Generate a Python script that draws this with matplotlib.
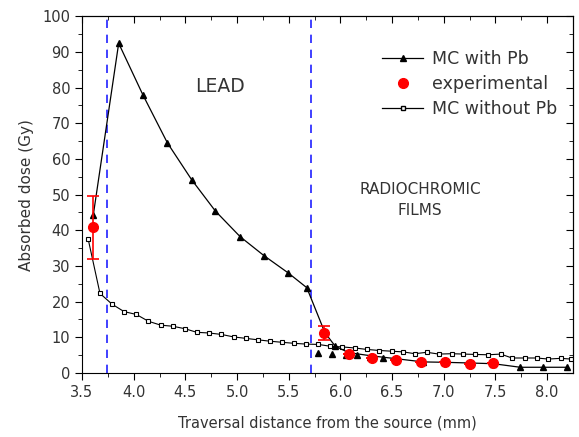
import numpy as np
import matplotlib.pyplot as plt
from matplotlib.lines import Line2D

# MC simulation with lead shield
pb_x = [3.61, 3.855, 4.09, 4.326, 4.56, 4.79, 5.03, 5.26, 5.497, 5.675,
        5.85, 5.95, 6.08, 6.30, 6.54, 6.80, 7.00, 7.25, 7.48, 7.74, 7.96, 8.19]
pb_y = [44.4, 92.4, 77.9, 64.5, 54.2, 45.4, 38.2, 32.9, 28.0, 23.9,
        11.3, 7.5, 5.7, 4.8, 4.0, 3.1, 3.0, 2.8, 2.6, 1.6, 1.6, 1.6]

# extra MC points in the film region (markers only)
pb_film_x = [5.78, 5.92, 6.05, 6.16, 6.29, 6.41, 6.54]
pb_film_y = [5.6, 5.2, 4.9, 4.9, 4.5, 4.2, 4.0]

# measured dose
exp_x = [3.61, 5.846, 6.08, 6.31, 6.537, 6.78, 7.01, 7.25, 7.48]
exp_y = [40.8, 11.3, 5.35, 4.2, 3.75, 3.1, 3.0, 2.5, 2.7]
exp_err = [8.8, 2.0, 0, 0, 0, 0, 0, 0, 0]

# MC simulation without lead
nopb_x = [3.56, 3.674, 3.79, 3.907, 4.026, 4.142, 4.262, 4.378, 4.497, 4.61,
          4.732, 4.849, 4.968, 5.085, 5.2, 5.32, 5.436, 5.555, 5.668, 5.787,
          5.90, 6.02, 6.14, 6.256, 6.378, 6.498, 6.61, 6.72, 6.837, 6.95,
          7.08, 7.19, 7.30, 7.43, 7.55, 7.66, 7.79, 7.90, 8.01, 8.13, 8.23]
nopb_y = [37.5, 22.3, 19.3, 17.2, 16.4, 14.5, 13.4, 13.1, 12.4, 11.4,
          11.2, 10.8, 10.1, 9.7, 9.3, 8.9, 8.6, 8.3, 8.1, 8.0,
          7.5, 7.3, 7.0, 6.6, 6.3, 6.1, 5.9, 5.4, 5.8, 5.3,
          5.4, 5.3, 5.2, 5.1, 5.3, 4.2, 4.2, 4.2, 3.9, 4.1, 3.9]

lead_edges = [3.74, 5.72]

txt = '#333333'
fig = plt.figure(figsize=(5.79, 4.37), dpi=100)
ax = fig.add_axes([0.1416, 0.1465, 0.848, 0.8165])

for xe in lead_edges:
    ax.axvline(xe, color='#2020ff', ls=(0, (5, 4)), lw=1.2, zorder=1)

ax.plot(nopb_x, nopb_y, color='black', lw=0.8, marker='s', ms=3.5,
        mfc='white', mec='black', mew=0.8, zorder=2)
ax.plot(pb_x, pb_y, color='black', lw=0.9, marker='^', ms=5,
        mfc='black', mec='black', zorder=3)
ax.plot(pb_film_x, pb_film_y, ls='none', marker='^', ms=5, color='black', zorder=3)
ax.errorbar(exp_x, exp_y, yerr=exp_err, fmt='o', color='red', ms=7,
            elinewidth=1.2, capsize=4, capthick=1.2, zorder=4)

ax.set_xlim(3.5, 8.25)
ax.set_ylim(0, 100)
ax.set_xticks(np.arange(3.5, 8.01, 0.5))
ax.set_xticks(np.arange(3.75, 8.25, 0.5), minor=True)
ax.set_yticks(np.arange(0, 101, 10))
ax.set_yticks(np.arange(5, 100, 10), minor=True)
ax.tick_params(which='both', direction='out', colors='black', labelcolor=txt, labelsize=10.5)
ax.tick_params(which='major', length=5)
ax.tick_params(which='minor', length=3)

top = ax.secondary_xaxis('top')
top.set_xticks(np.arange(3.5, 8.01, 0.5))
top.set_xticks(np.arange(3.75, 8.25, 0.5), minor=True)
top.tick_params(which='both', direction='in', labeltop=False)
top.tick_params(which='major', length=5)
top.tick_params(which='minor', length=3)
right = ax.secondary_yaxis('right')
right.set_yticks(np.arange(0, 101, 10))
right.set_yticks(np.arange(5, 100, 10), minor=True)
right.tick_params(which='both', direction='in', labelright=False)
right.tick_params(which='major', length=5)
right.tick_params(which='minor', length=3)

ax.set_xlabel('Traversal distance from the source (mm)', color=txt, fontsize=10.5, labelpad=11)
ax.set_ylabel('Absorbed dose (Gy)', color=txt, fontsize=11, labelpad=6)

ax.text(4.84, 80.4, 'LEAD', ha='center', va='center', fontsize=13.5, color=txt)
ax.text(6.77, 48.5, 'RADIOCHROMIC\nFILMS', ha='center', va='center', fontsize=11,
        color=txt, linespacing=1.5)

handles = [
    Line2D([], [], color='black', lw=0.9, marker='^', ms=4),
    Line2D([], [], ls='none', marker='o', color='red', ms=7),
    Line2D([], [], color='black', lw=0.9, marker='s', ms=3, mfc='white', mec='black'),
]
labels = ['MC with Pb', 'experimental', 'MC without Pb']
ax.legend(handles, labels, loc='upper right', bbox_to_anchor=(1.0, 0.95),
          frameon=False, fontsize=12.5, labelcolor=txt, handlelength=2.4,
          handletextpad=0.5, labelspacing=0.42)

fig.savefig('out.png', dpi=100)
